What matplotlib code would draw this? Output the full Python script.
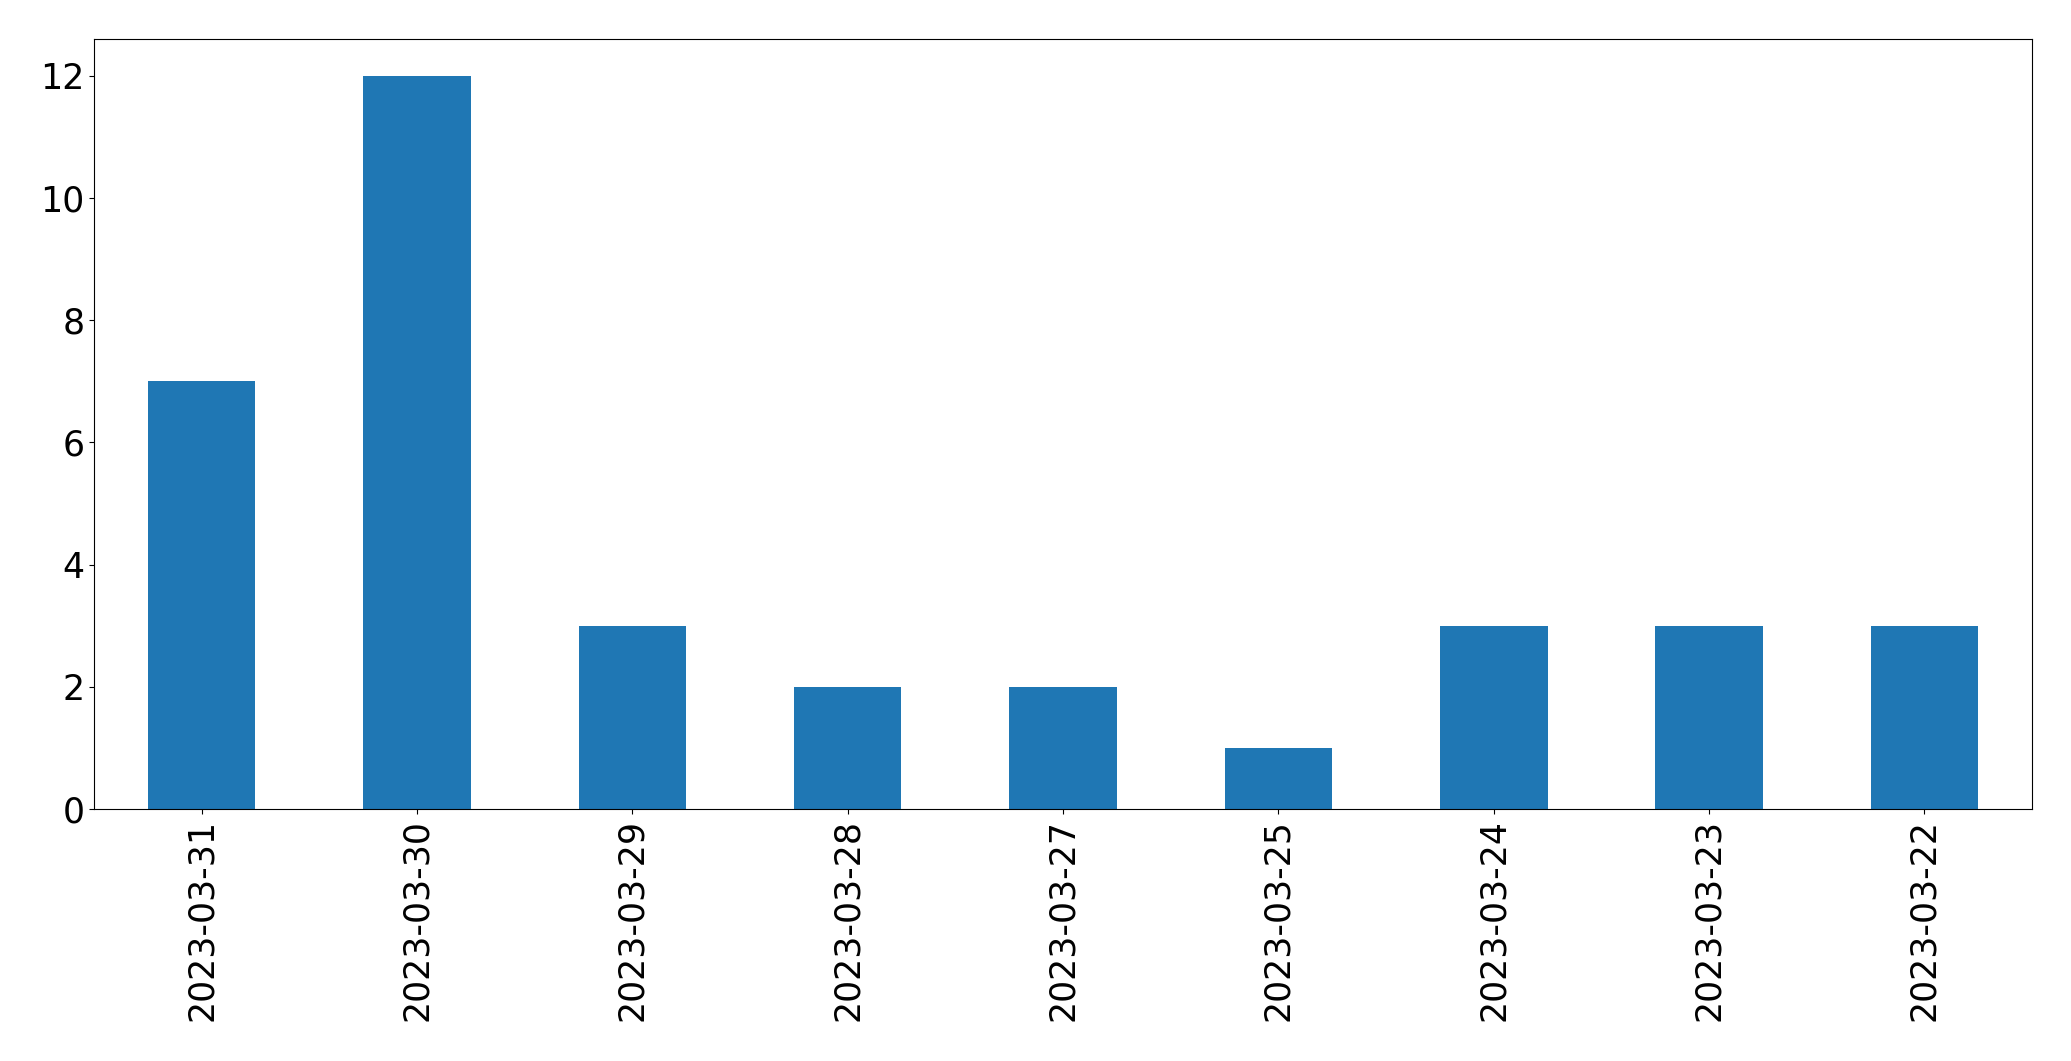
import matplotlib
matplotlib.use('Agg')
import matplotlib.pyplot as plt
import pandas as pd

dates = ['2023-03-31', '2023-03-30', '2023-03-29', '2023-03-28', '2023-03-27',
         '2023-03-25', '2023-03-24', '2023-03-23', '2023-03-22']
counts = [7, 12, 3, 2, 2, 1, 3, 3, 3]

s = pd.Series(counts, index=dates)

fig = plt.figure(figsize=(20.71, 10.61), dpi=100)
ax = fig.add_axes([94 / 2071, 1 - 809 / 1061, (2032 - 94) / 2071, (809 - 39) / 1061])
s.plot.bar(ax=ax, color='#1f77b4', fontsize=25)

fig.savefig('out.png', dpi=100)
